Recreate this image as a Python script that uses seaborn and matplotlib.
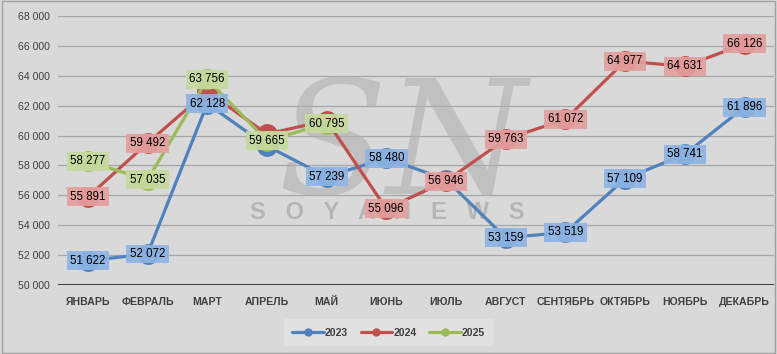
import pandas as pd
import numpy as np
import matplotlib
matplotlib.use('Agg')
import matplotlib.pyplot as plt
import seaborn as sns

months = ['ЯНВАРЬ', 'ФЕВРАЛЬ', 'МАРТ', 'АПРЕЛЬ', 'МАЙ', 'ИЮНЬ', 'ИЮЛЬ',
          'АВГУСТ', 'СЕНТЯБРЬ', 'ОКТЯБРЬ', 'НОЯБРЬ', 'ДЕКАБРЬ']
v2023 = [51622, 52072, 62128, 59300, 57239, 58480, 57050, 53159, 53519, 57109, 58741, 61896]
v2024 = [55891, 59492, 62950, 60100, 61000, 55096, 56946, 59763, 61072, 64977, 64631, 66126]
v2025 = [58277, 57035, 63756, 59665, 60795]
years = ['2023', '2024', '2025']
# какие подписи показывать (на картинке часть скрыта под другими)
show2023 = [True, True, True, False, True, True, False, True, True, True, True, True]
show2024 = [True, True, False, False, False, True, True, True, True, True, True, True]
show2025 = [True, True, True, True, True]

line_colors = {'2023': '#4f81bd', '2024': '#c0504d', '2025': '#9bbb59'}
box_colors = {'2023': '#8db4e3', '2024': '#e3a09e', '2025': '#c6da9e'}
BG = '#d9d9d9'

rows = []
for yr, vals in zip(years, [v2023, v2024, v2025]):
    for i, v in enumerate(vals):
        rows.append({'month': i, 'value': v, 'year': yr})
df = pd.DataFrame(rows)

sns.set_theme(style='white')
plt.rcParams['font.family'] = ['Liberation Sans', 'DejaVu Sans']

fig = plt.figure(figsize=(7.77, 3.54), dpi=100, facecolor=BG)
ax = fig.add_axes([0.0746, 0.195, 0.922, 0.76])
ax.set_facecolor(BG)

# водяной знак
ax.text(0.48, 0.50, 'SN', transform=ax.transAxes, fontsize=115, style='italic',
        color='#b0b0b0', alpha=0.6, ha='center', va='center', zorder=1,
        family='DejaVu Serif')
ax.text(0.46, 0.27, 'S   O   Y   A   N   E   W   S', transform=ax.transAxes,
        fontsize=17, fontweight='bold', color='#a6a6a6', alpha=0.7,
        ha='center', va='center', zorder=1)

for y in range(52000, 68001, 2000):
    ax.axhline(y, color='#a6a6a6', lw=0.9, zorder=0)
ax.axhline(50000, color='#404040', lw=2.2, zorder=2)

sns.lineplot(data=df, x='month', y='value', hue='year', palette=line_colors,
             marker='o', markersize=15, linewidth=2.3, markeredgewidth=0,
             ax=ax, legend=False, zorder=3)

for yr, vals, shows in zip(years, [v2023, v2024, v2025], [show2023, show2024, show2025]):
    for i, (v, s) in enumerate(zip(vals, shows)):
        if not s:
            continue
        txt = f'{v:,}'.replace(',', ' ')
        ax.text(i, v, txt, ha='center', va='center', fontsize=8.3, color='black',
                zorder=5,
                bbox=dict(boxstyle='square,pad=0.3', fc=box_colors[yr], ec='none', alpha=0.92))

ax.set_xlim(-0.5, 11.5)
ax.set_ylim(50000, 68000)
ax.set_xticks(range(12))
ax.set_xticklabels(months)
ax.set_yticks(range(50000, 68001, 2000))
ax.set_yticklabels([f'{t:,}'.replace(',', ' ') for t in range(50000, 68001, 2000)])
ax.tick_params(axis='x', length=0, pad=9, labelsize=7.6, labelcolor='#404040')
ax.tick_params(axis='y', length=0, pad=6, labelsize=7.6, labelcolor='#404040')
for lab in ax.get_xticklabels():
    lab.set_fontweight('bold')
ax.set_xlabel('')
ax.set_ylabel('')
for sp in ax.spines.values():
    sp.set_visible(False)

handles = [plt.Line2D([], [], color=line_colors[y], lw=2.3, marker='o', markersize=5)
           for y in years]
leg = fig.legend(handles, years, loc='center', bbox_to_anchor=(0.5, 0.06), ncol=3,
                 frameon=True, fontsize=7.6, handlelength=3.0, handletextpad=0.1,
                 columnspacing=1.2, borderpad=0.5)
leg.get_frame().set_facecolor('#e4e4e4')
leg.get_frame().set_edgecolor('none')
leg.get_frame().set_boxstyle('square')
for t in leg.get_texts():
    t.set_fontweight('bold')
    t.set_color('#404040')

fig.patches.append(plt.Rectangle((0.002, 0.003), 0.996, 0.994, transform=fig.transFigure,
                                 fill=False, ec='#a0a0a0', lw=1))

fig.savefig('out.png', dpi=100, facecolor=BG)
